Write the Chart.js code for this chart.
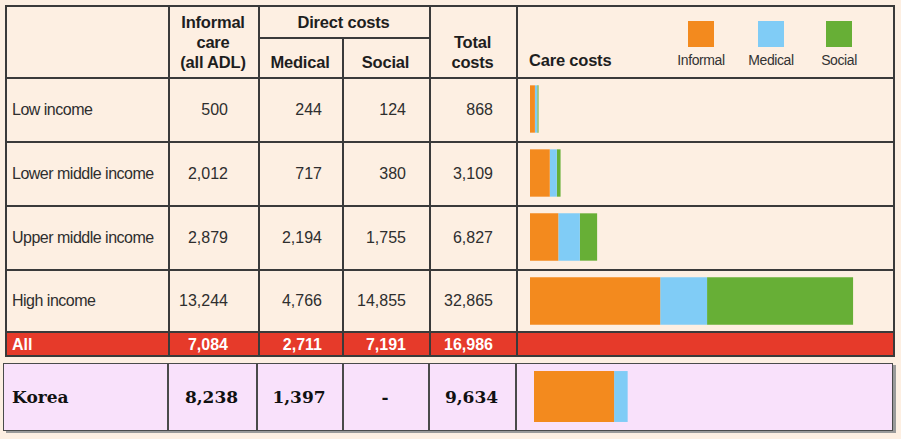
<!DOCTYPE html>
<html><head><meta charset="utf-8">
<script src="https://cdn.jsdelivr.net/npm/chart.js@4/dist/chart.umd.min.js"></script>
<style>
html,body{margin:0;padding:0;}
body{width:901px;height:439px;background:#fdefe2;position:relative;overflow:hidden;
 font-family:"Liberation Sans",Arial,sans-serif;color:#2e2e2e;}
.ln{position:absolute;background:#3a3a3a;}
.c{position:absolute;display:flex;align-items:center;box-sizing:border-box;white-space:nowrap;line-height:1;}
.hd{position:absolute;text-align:center;font-weight:bold;font-size:16.5px;letter-spacing:-0.2px;line-height:20px;color:#1e1e1e;white-space:nowrap;}
.body{font-size:16px;}
.lab{letter-spacing:-0.5px;}
.all{font-size:16px;font-weight:bold;color:#fff;}
.kor{font-family:"DejaVu Serif",serif;font-weight:bold;font-size:17px;color:#111;}
.sq{position:absolute;width:26px;height:26px;}
.lg{position:absolute;font-size:14px;letter-spacing:-0.4px;text-align:center;width:80px;line-height:20px;color:#333;}
canvas{position:absolute;}
</style></head>
<body>
<script>
// ---- data ----
const categories = ['Low income','Lower middle income','Upper middle income','High income'];
const informal = [500, 2012, 2879, 13244];
const medical  = [244, 717, 2194, 4766];
const social   = [124, 380, 1755, 14855];
const total    = [868, 3109, 6827, 32865];
const allLabel = 'All';
const allValues = [7084, 2711, 7191, 16986];
const koreaLabel = 'Korea';
const koreaInformal = [8238];
const koreaMedical = [1397];
const koreaSocial = [null];
const koreaTotal = [9634];
const seriesNames = ['Informal','Medical','Social'];
const seriesColors = ['#f38a1e','#80ccf6','#67af36'];
const xMax = 36620;

const B = document.body;
function el(tag, cls, style, html){const d=document.createElement(tag); if(cls)d.className=cls; Object.assign(d.style,style); if(html!==undefined)d.innerHTML=html; B.appendChild(d); return d;}
function line(x,y,w,h,col){el('div','ln',{left:x+'px',top:y+'px',width:w+'px',height:h+'px',background:col||'#3a3a3a'});}
function cell(x1,y1,x2,y2,txt,align,cls,pad){
  return el('div','c '+(cls||''),{left:x1+'px',top:y1+'px',width:(x2-x1)+'px',height:(y2-y1)+'px',
    justifyContent:align==='r'?'flex-end':(align==='c'?'center':'flex-start'),
    paddingRight:(align==='r'?pad:0)+'px',paddingLeft:(align==='l'?pad:0)+'px'},txt);
}
const fmt = v => v==null ? '-' : v.toLocaleString('en-US');

// red "All" band
el('div','',{position:'absolute',left:'5px',top:'332px',width:'890px',height:'25px',background:'#e63a2a'});
// Korea box
el('div','',{position:'absolute',left:'3px',top:'363px',width:'888px',height:'66px',background:'#f9e1fb',
  border:'1.5px solid #4a4a4a',boxShadow:'3px 2px 0 #9a9a9a'});

// main table grid
const colX=[168,258,342,429,516];
line(5,5,890,2); line(5,355,890,2); line(5,5,2,352); line(893,5,2,352);
colX.forEach(x=>{ if(x===342) line(x,38,2,319); else line(x,5,2,352); });
line(258,37,171,2);
[77,141,205,269,331].forEach(y=>line(5,y,890,2));
// Korea grid
[167,256,342,428,515].forEach(x=>line(x,363,1.5,68,'#4a4a4a'));

// headers
el('div','hd',{left:'168px',top:'12px',width:'90px'},'Informal<br>care<br>(all ADL)');
el('div','hd',{left:'258px',top:'12px',width:'171px'},'Direct costs');
el('div','hd',{left:'258px',top:'52px',width:'84px'},'Medical');
el('div','hd',{left:'342px',top:'52px',width:'87px'},'Social');
el('div','hd',{left:'429px',top:'32px',width:'87px'},'Total<br>costs');
el('div','hd',{left:'529px',top:'50px',textAlign:'left'},'Care costs');
// legend
const sqX=[688,758,826];
seriesNames.forEach((n,i)=>{
  el('div','sq',{left:sqX[i]+'px',top:'21px',background:seriesColors[i]});
  el('div','lg',{left:(sqX[i]+13-40)+'px',top:'50px'},n);
});

// body rows
const rowY=[[77,143],[141,207],[205,271],[269,333]];
const rightX=[228,322,406,493];
const colL=[168,258,342,429];
categories.forEach((c,i)=>{
  const [y1,y2]=rowY[i];
  cell(7,y1,168,y2,c,'l','body lab',5);
  [informal[i],medical[i],social[i],total[i]].forEach((v,j)=>cell(colL[j],y1,rightX[j],y2,fmt(v),'r','body',0));
});
// All row
cell(7,333,168,357,allLabel,'l','all',5);
allValues.forEach((v,j)=>cell(colL[j],333,rightX[j],357,fmt(v),'r','all',0));
// Korea row
const kX=[167,256,342,428,515];
cell(3,364,167,431,koreaLabel,'l','kor',9);
[koreaInformal[0],koreaMedical[0],koreaSocial[0],koreaTotal[0]].forEach((v,j)=>cell(kX[j],364,kX[j+1],431,fmt(v),'c','kor',0));

// charts
function mkCanvas(x,y,w,h){const c=document.createElement('canvas');c.width=w;c.height=h;c.style.left=x+'px';c.style.top=y+'px';c.style.width=w+'px';c.style.height=h+'px';B.appendChild(c);return c;}
function opts(){return {indexAxis:'y',responsive:false,maintainAspectRatio:false,animation:false,
  layout:{padding:0},events:[],
  plugins:{legend:{display:false},tooltip:{enabled:false}},
  scales:{x:{stacked:true,min:0,max:xMax,display:false},y:{stacked:true,display:false}}};}
function ds(data,i,bp){return {label:seriesNames[i],data:data,backgroundColor:seriesColors[i],borderWidth:0,barPercentage:bp,categoryPercentage:1};}
new Chart(mkCanvas(530,77,360,256),{type:'bar',data:{labels:categories,
  datasets:[ds(informal,0,0.74),ds(medical,1,0.74),ds(social,2,0.74)]},options:opts()});
new Chart(mkCanvas(534,363,356,67),{type:'bar',data:{labels:[koreaLabel],
  datasets:[ds(koreaInformal,0,0.76),ds(koreaMedical,1,0.76),ds(koreaSocial,2,0.76)]},options:opts()});
</script>
</body></html>
